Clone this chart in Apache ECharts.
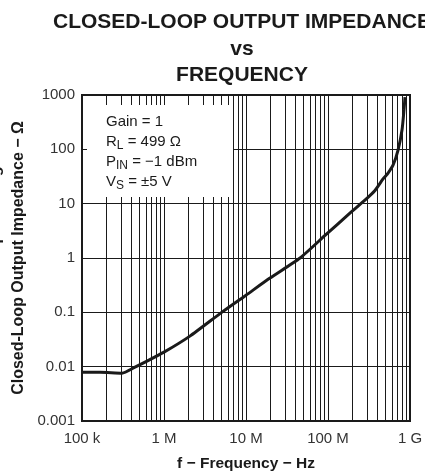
<!DOCTYPE html>
<html>
<head>
<meta charset="utf-8">
<script src="https://cdn.jsdelivr.net/npm/echarts@6/dist/echarts.min.js"></script>
<style>
html,body{margin:0;padding:0;background:#fff;}
#chart{width:425px;height:473px;}
</style>
</head>
<body>
<div id="chart"></div>
<script>
// ---- data ----
const freqHz = [1e5, 1.66e5, 3.07e5, 4.43e5, 5.55e5, 1e6, 2.07e6, 5.1e6, 1e7, 1.96e7, 4.56e7, 9.2e7, 1.85e8, 2.82e8, 3.74e8, 4.69e8, 5.4e8, 6.21e8, 7.15e8, 7.99e8, 8.45e8, 8.69e8];
const impedanceOhm = [0.0079, 0.0079, 0.0076, 0.0098, 0.0116, 0.0185, 0.0365, 0.101, 0.207, 0.427, 1.0, 2.6, 6.7, 11.6, 17.5, 28.5, 36.6, 51, 97, 226, 530, 918];
const xTickValues = [1e5, 1e6, 1e7, 1e8, 1e9];
const xTickLabels = ['100 k', '1 M', '10 M', '100 M', '1 G'];
const yTickLabels = ['0.001', '0.01', '0.1', '1', '10', '100', '1000'];
const minorFactors = [2, 3, 4, 5, 6, 7, 8, 9];
const titleLines = ['CLOSED-LOOP OUTPUT IMPEDANCE', 'vs', 'FREQUENCY'];
const conditions = ['Gain = 1', '{n|R}{s|L}{n| = 499 Ω}', '{n|P}{s|IN}{n| = −1 dBm}', '{n|V}{s|S}{n| = ±5 V}'];

const FONT = '"Liberation Sans", Arial, sans-serif';

// vertical grid lines (major + minor) through the x scale
const vLines = [];
for (let d = 0; d < xTickValues.length - 1; d++) {
  for (const f of minorFactors) vLines.push({ xAxis: xTickValues[d] * f });
}
for (let d = 1; d < xTickValues.length - 1; d++) vLines.push({ xAxis: xTickValues[d] });

const chart = echarts.init(document.getElementById('chart'), null, { renderer: 'canvas' });
chart.setOption({
  animation: false,
  backgroundColor: '#fff',
  title: {
    text: titleLines.join('\n'),
    left: 237,
    top: 4,
    textAlign: 'center',
    textStyle: { fontFamily: FONT, fontWeight: 'bold', fontSize: 21, lineHeight: 26.5, color: '#1a1a1a' }
  },
  grid: { left: 82, right: 15, top: 95, bottom: 52, show: true, borderColor: '#1a1a1a', borderWidth: 2, containLabel: false, outerBoundsMode: 'none' },
  xAxis: {
    type: 'log', logBase: 10, min: 1e5, max: 1e9,
    name: 'f − Frequency − Hz', nameLocation: 'middle', nameGap: 35,
    nameTextStyle: { fontFamily: FONT, fontWeight: 'bold', fontSize: 15.5, color: '#1a1a1a' },
    axisLine: { lineStyle: { color: '#1a1a1a', width: 2 } },
    axisTick: { show: false },
    axisLabel: {
      fontFamily: FONT, fontSize: 15, color: '#333', margin: 10,
      formatter: v => xTickLabels[Math.round(Math.log10(v)) - 5]
    },
    splitLine: { show: false }
  },
  yAxis: {
    type: 'log', logBase: 10, min: 0.001, max: 1000,
    name: 'Closed-Loop Output Impedance − Ω', nameLocation: 'middle', nameGap: 49, nameRotate: 90,
    nameTextStyle: { fontFamily: FONT, fontWeight: 'bold', fontSize: 16, color: '#1a1a1a' },
    axisLine: { lineStyle: { color: '#1a1a1a', width: 2 } },
    axisTick: { show: false },
    axisLabel: {
      fontFamily: FONT, fontSize: 15, color: '#333', margin: 7,
      formatter: v => yTickLabels[Math.round(Math.log10(v)) + 3]
    },
    splitLine: { show: true, lineStyle: { color: '#1a1a1a', width: 1 } }
  },
  graphic: [
    { type: 'rect', shape: { x: 87, y: 105, width: 146, height: 92 }, style: { fill: '#fff' }, z: 50 },
    {
      type: 'text', x: 106, y: 112, z: 51,
      style: {
        text: conditions.map((c, i) => i === 0 ? '{n|' + c + '}' : c).join('\n'),
        rich: {
          n: { fontFamily: FONT, fontSize: 15, lineHeight: 20, fill: '#1a1a1a', verticalAlign: 'middle' },
          s: { fontFamily: FONT, fontSize: 12, lineHeight: 11, fill: '#1a1a1a', verticalAlign: 'bottom' }
        }
      }
    },
    {
      type: 'text', x: -4, y: 230, rotation: Math.PI / 2, z: 51,
      style: { text: 'Differential Input Voltage − mV', fontFamily: FONT, fontWeight: 'bold', fontSize: 16, fill: '#1a1a1a', align: 'center', verticalAlign: 'middle' }
    }
  ],
  series: [
    {
      type: 'line', data: [], silent: true, z: 1,
      markLine: {
        silent: true, symbol: 'none', label: { show: false },
        lineStyle: { color: '#1a1a1a', width: 1, type: 'solid' },
        data: vLines
      }
    },
    {
      type: 'line', z: 60,
      data: freqHz.map((f, i) => [f, impedanceOhm[i]]),
      showSymbol: false, smooth: 0.2,
      lineStyle: { color: '#1a1a1a', width: 3 }
    }
  ]
});
</script>
</body>
</html>
